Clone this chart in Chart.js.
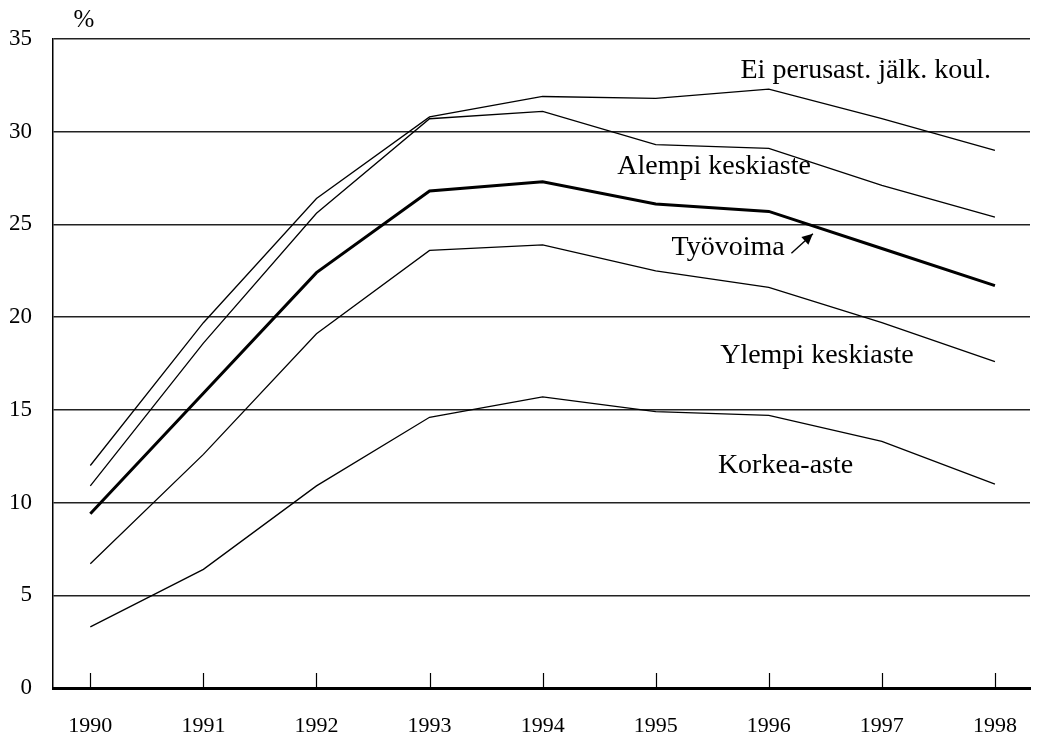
<!DOCTYPE html>
<html>
<head>
    <title>Työttömyysaste koulutusasteen mukaan</title>
    <style>
        body { margin: 0; background: #fff; }
        #wrap { width: 1037px; height: 735px; }
    </style>
</head>
<body>
    <div id="wrap"><canvas id="chart" width="1037" height="735"></canvas></div>

    <script src="https://cdn.jsdelivr.net/npm/chart.js"></script>
    <script>
        const years = [1990, 1991, 1992, 1993, 1994, 1995, 1996, 1997, 1998];
        const eiPerusast = [12.0, 19.7, 26.4, 30.8, 31.9, 31.8, 32.3, 30.7, 29.0];
        const alempi = [10.9, 18.6, 25.6, 30.7, 31.1, 29.3, 29.1, 27.1, 25.4];
        const tyovoima = [9.4, 15.9, 22.4, 26.8, 27.3, 26.1, 25.7, 23.7, 21.7];
        const ylempi = [6.7, 12.6, 19.1, 23.6, 23.9, 22.5, 21.6, 19.7, 17.6];
        const korkea = [3.3, 6.4, 10.9, 14.6, 15.7, 14.9, 14.7, 13.3, 11.0];
        const yTicks = [0, 5, 10, 15, 20, 25, 30, 35];

        // label anchors in data units (left edge year, baseline %)
        const labels = [
            { text: 'Ei perusast. jälk. koul.', x: 1995.75, y: 32.9 },
            { text: 'Alempi keskiaste', x: 1994.66, y: 27.72 },
            { text: 'Työvoima', x: 1995.14, y: 23.36 },
            { text: 'Ylempi keskiaste', x: 1995.57, y: 17.53 },
            { text: 'Korkea-aste', x: 1995.55, y: 11.6 }
        ];
        const arrow = { x1: 1996.2, y1: 23.45, x2: 1996.39, y2: 24.5 };

        const FONT = '"Liberation Serif", "Times New Roman", serif';

        function toXY(vals) {
            return vals.map((v, i) => ({ x: years[i], y: v }));
        }

        function line(vals, w) {
            return {
                data: toXY(vals),
                borderColor: '#000',
                borderWidth: w,
                pointRadius: 0,
                tension: 0,
                fill: false
            };
        }

        const extras = {
            id: 'extras',
            afterDraw(chart) {
                const ctx = chart.ctx;
                const xs = chart.scales.x, ys = chart.scales.y;
                const bottom = chart.chartArea.bottom;
                ctx.save();
                // inner tick marks on x axis
                ctx.strokeStyle = '#000';
                ctx.lineWidth = 1.2;
                years.forEach(y => {
                    const px = Math.round(xs.getPixelForValue(y)) + 0.5;
                    ctx.beginPath();
                    ctx.moveTo(px, bottom - 1);
                    ctx.lineTo(px, bottom - 15);
                    ctx.stroke();
                });
                // series labels
                ctx.fillStyle = '#000';
                ctx.font = '28px ' + FONT;
                ctx.textAlign = 'left';
                ctx.textBaseline = 'alphabetic';
                labels.forEach(l => {
                    ctx.fillText(l.text, xs.getPixelForValue(l.x), ys.getPixelForValue(l.y));
                });
                // percent sign
                ctx.font = '25px ' + FONT;
                ctx.textAlign = 'center';
                ctx.fillText('%', 84, 27);
                // arrow
                const ax1 = xs.getPixelForValue(arrow.x1), ay1 = ys.getPixelForValue(arrow.y1);
                const ax2 = xs.getPixelForValue(arrow.x2), ay2 = ys.getPixelForValue(arrow.y2);
                ctx.lineWidth = 1.4;
                ctx.beginPath();
                ctx.moveTo(ax1, ay1);
                ctx.lineTo(ax2, ay2);
                ctx.stroke();
                const ang = Math.atan2(ay2 - ay1, ax2 - ax1);
                ctx.beginPath();
                ctx.moveTo(ax2, ay2);
                ctx.lineTo(ax2 - 12 * Math.cos(ang - 0.45), ay2 - 12 * Math.sin(ang - 0.45));
                ctx.lineTo(ax2 - 12 * Math.cos(ang + 0.45), ay2 - 12 * Math.sin(ang + 0.45));
                ctx.closePath();
                ctx.fill();
                ctx.restore();
            }
        };

        new Chart(document.getElementById('chart'), {
            type: 'line',
            data: {
                datasets: [
                    line(eiPerusast, 1.3),
                    line(alempi, 1.3),
                    line(tyovoima, 3),
                    line(ylempi, 1.3),
                    line(korkea, 1.3)
                ]
            },
            options: {
                responsive: false,
                animation: false,
                layout: { padding: { top: 39, right: 7, left: 0, bottom: 0 } },
                plugins: {
                    legend: { display: false },
                    tooltip: { enabled: false }
                },
                scales: {
                    x: {
                        type: 'linear',
                        min: 1989.67,
                        max: 1998.31,
                        afterBuildTicks: s => { s.ticks = years.map(v => ({ value: v })); },
                        ticks: {
                            color: '#000',
                            font: { family: FONT, size: 22 },
                            padding: 25,
                            callback: v => String(v)
                        },
                        grid: { display: false, drawTicks: false },
                        border: { display: true, color: '#000', width: 3 },
                        afterFit: s => {
                            s.height = 47;
                            s.paddingLeft = 0;
                            s.paddingRight = 0;
                        }
                    },
                    y: {
                        min: 0,
                        max: 35,
                        afterBuildTicks: s => { s.ticks = yTicks.map(v => ({ value: v })); },
                        ticks: {
                            color: '#000',
                            font: { family: FONT, size: 23 },
                            padding: 21
                        },
                        grid: { color: '#222', lineWidth: 1.5, drawTicks: false },
                        border: { display: true, color: '#000', width: 1.5 },
                        afterFit: s => { s.width = 53; }
                    }
                }
            },
            plugins: [extras]
        });
    </script>
</body>
</html>
